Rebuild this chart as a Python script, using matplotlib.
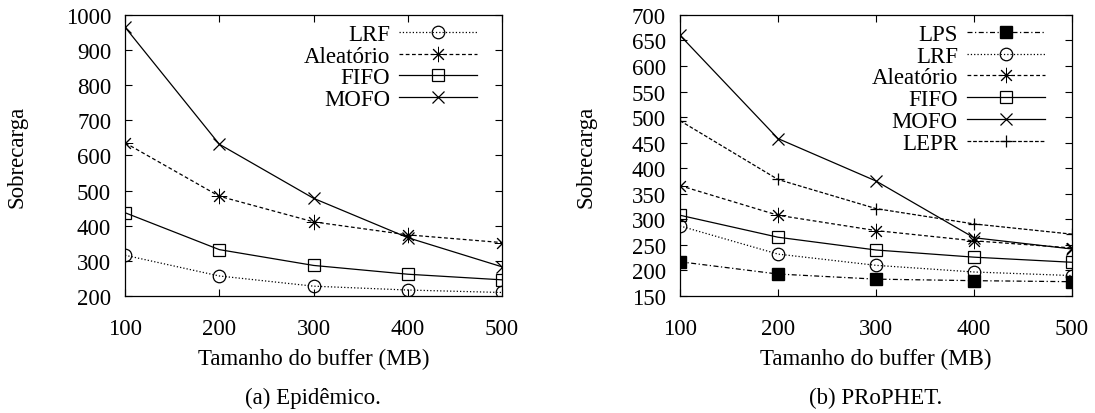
import matplotlib.pyplot as plt

plt.rcParams['font.family'] = ['Liberation Serif', 'DejaVu Serif']
plt.rcParams['font.size'] = 16.5

buffer_mb = [100, 200, 300, 400, 500]

# (a) Epidemico
epi_lrf = [316, 257, 228, 217, 210]
epi_aleatorio = [636, 484, 411, 374, 352]
epi_fifo = [437, 332, 287, 262, 246]
epi_mofo = [965, 632, 478, 366, 283]

# (b) PRoPHET
pro_lps = [217, 193, 183, 180, 178]
pro_lrf = [287, 232, 210, 197, 190]
pro_aleatorio = [366, 308, 278, 258, 244]
pro_fifo = [308, 265, 240, 226, 216]
pro_mofo = [660, 458, 375, 264, 242]
pro_lepr = [493, 378, 321, 291, 271]

fig = plt.figure(figsize=(10.95, 4.14), dpi=100)
ax1 = fig.add_axes([0.1142, 0.2826, 0.3443, 0.679])
ax2 = fig.add_axes([0.621, 0.2826, 0.358, 0.679])

k = dict(color='black', lw=0.9, mfc='none', mew=0.9, ms=9)
ks = dict(color='black', lw=0.9, mew=0.7, ms=11, marker=(8, 2, 0))

ax1.plot(buffer_mb, epi_lrf, ls=':', marker='o', label='LRF', **k)
ax1.plot(buffer_mb, epi_aleatorio, ls=(0, (3, 2)), label='Aleatório', **ks)
ax1.plot(buffer_mb, epi_fifo, ls='-', marker='s', label='FIFO', **k)
ax1.plot(buffer_mb, epi_mofo, ls='-', marker='x', label='MOFO', **k)
ax1.set_ylim(200, 1000)
ax1.set_yticks(range(200, 1001, 100))

ax2.plot(buffer_mb, pro_lps, ls=(0, (4, 2, 1, 2)), marker='s', color='black', lw=0.9, ms=9, label='LPS')
ax2.plot(buffer_mb, pro_lrf, ls=':', marker='o', label='LRF', **k)
ax2.plot(buffer_mb, pro_aleatorio, ls=(0, (3, 2)), label='Aleatório', **ks)
ax2.plot(buffer_mb, pro_fifo, ls='-', marker='s', label='FIFO', **k)
ax2.plot(buffer_mb, pro_mofo, ls='-', marker='x', label='MOFO', **k)
ax2.plot(buffer_mb, pro_lepr, ls=(0, (3, 1.5)), marker='+', label='LEPR', **k)
ax2.set_ylim(150, 700)
ax2.set_yticks(range(150, 701, 50))

for ax, ylab_x, leg_x in ((ax1, -0.26, 0.934), (ax2, -0.212, 0.931)):
    ax.set_xlim(100, 500)
    ax.set_xticks(buffer_mb)
    ax.tick_params(direction='in', top=True, right=True, length=5, width=0.8, labelsize=16.5)
    ax.tick_params(axis='x', pad=16)
    ax.tick_params(axis='y', pad=10)
    for s in ax.spines.values():
        s.set_linewidth(0.9)
    ax.set_xlabel('Tamanho do buffer (MB)', fontsize=16.5, labelpad=6)
    ax.set_ylabel('Sobrecarga', fontsize=16.5)
    ax.yaxis.set_label_coords(ylab_x, 0.5)
    ax.legend(loc='upper right', bbox_to_anchor=(leg_x, 0.968), frameon=False,
              markerfirst=False, handlelength=3.4, fontsize=16.5, borderaxespad=0,
              borderpad=0, labelspacing=0.03, handletextpad=0.4)

fig.text(0.2855, 0.025, '(a) Epidêmico.', ha='center', fontsize=16.5)
fig.text(0.80, 0.025, '(b) PRoPHET.', ha='center', fontsize=16.5)

fig.savefig('out.png', dpi=100)
